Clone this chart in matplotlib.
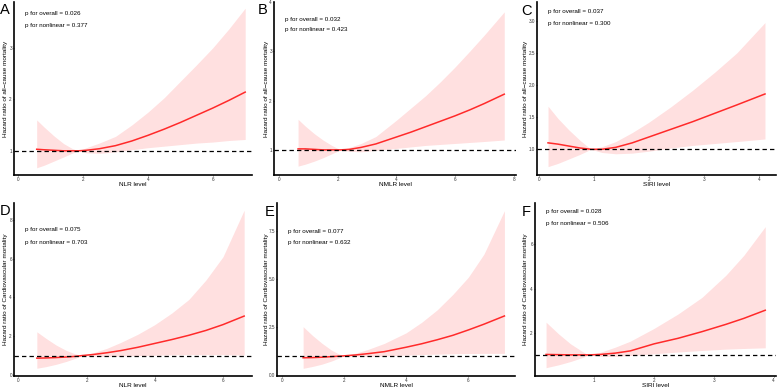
import matplotlib
matplotlib.use("Agg")
import matplotlib.pyplot as plt

plt.rcParams['font.family'] = ['Liberation Sans', 'DejaVu Sans']

W, H = 777, 389

# ---- data ----
a_x = [0.57, 0.8, 1.1, 1.4, 1.65, 1.85, 2.1, 2.5, 3.0, 3.5, 4.0, 4.5, 5.0, 5.5, 6.0, 6.5, 7.0]
a_hr = [1.03, 1.02, 1.01, 1.0, 1.0, 1.0, 1.01, 1.04, 1.10, 1.19, 1.30, 1.42, 1.55, 1.69, 1.83, 1.98, 2.14]
a_up = [1.60, 1.46, 1.29, 1.14, 1.05, 1.0, 1.06, 1.15, 1.28, 1.50, 1.75, 2.03, 2.35, 2.67, 3.0, 3.37, 3.77]
a_lo = [0.67, 0.72, 0.80, 0.88, 0.95, 1.0, 0.96, 0.95, 0.98, 1.02, 1.06, 1.09, 1.12, 1.15, 1.17, 1.20, 1.22]

b_x = [0.65, 0.9, 1.2, 1.5, 1.8, 2.1, 2.4, 2.8, 3.3, 4.0, 4.5, 5.0, 5.5, 6.0, 6.5, 7.0, 7.68]
b_hr = [1.02, 1.02, 1.01, 1.0, 1.0, 1.0, 1.01, 1.05, 1.12, 1.26, 1.36, 1.47, 1.58, 1.69, 1.81, 1.94, 2.13]
b_up = [1.62, 1.48, 1.33, 1.20, 1.09, 1.0, 1.05, 1.13, 1.27, 1.60, 1.85, 2.1, 2.38, 2.68, 3.0, 3.33, 3.8]
b_lo = [0.67, 0.71, 0.77, 0.84, 0.92, 1.0, 0.97, 0.96, 0.99, 1.03, 1.06, 1.09, 1.11, 1.13, 1.15, 1.17, 1.20]

c_x = [0.17, 0.35, 0.55, 0.75, 0.95, 1.15, 1.4, 1.7, 2.0, 2.4, 2.8, 3.2, 3.6, 4.11]
c_hr = [1.10, 1.08, 1.05, 1.02, 1.0, 1.0, 1.03, 1.10, 1.19, 1.31, 1.43, 1.56, 1.69, 1.86]
c_up = [1.67, 1.48, 1.30, 1.14, 1.0, 1.04, 1.12, 1.26, 1.42, 1.66, 1.92, 2.2, 2.5, 2.97]
c_lo = [0.73, 0.78, 0.85, 0.92, 1.0, 0.95, 0.93, 0.94, 0.97, 1.02, 1.06, 1.09, 1.12, 1.16]

d_x = [0.54, 0.8, 1.1, 1.4, 1.65, 1.85, 2.2, 2.6, 3.0, 3.5, 4.0, 4.5, 5.0, 5.5, 6.0, 6.62]
d_hr = [0.87, 0.88, 0.90, 0.93, 0.96, 1.0, 1.06, 1.15, 1.26, 1.43, 1.63, 1.83, 2.05, 2.3, 2.6, 3.04]
d_up = [2.23, 1.90, 1.55, 1.27, 1.10, 1.0, 1.15, 1.38, 1.68, 2.1, 2.6, 3.2, 3.9, 4.9, 6.1, 8.5]
d_lo = [0.35, 0.43, 0.55, 0.70, 0.85, 1.0, 0.97, 0.96, 0.98, 1.0, 1.02, 1.04, 1.05, 1.05, 1.05, 1.03]

e_x = [0.69, 1.0, 1.3, 1.6, 1.8, 2.0, 2.4, 2.8, 3.3, 4.0, 4.5, 5.0, 5.5, 6.0, 6.5, 7.16]
e_hr = [0.90, 0.91, 0.93, 0.96, 0.98, 1.0, 1.05, 1.12, 1.22, 1.45, 1.63, 1.84, 2.07, 2.35, 2.65, 3.08]
e_up = [2.52, 2.05, 1.65, 1.30, 1.13, 1.0, 1.15, 1.35, 1.65, 2.2, 2.75, 3.4, 4.2, 5.1, 6.3, 8.57]
e_lo = [0.35, 0.45, 0.57, 0.73, 0.86, 1.0, 0.98, 0.97, 0.99, 1.04, 1.07, 1.09, 1.11, 1.12, 1.13, 1.13]

f_x = [0.19, 0.4, 0.6, 0.8, 0.9, 1.1, 1.35, 1.6, 2.0, 2.4, 2.8, 3.2, 3.5, 3.86]
f_hr = [1.02, 1.01, 1.0, 1.0, 1.0, 1.02, 1.08, 1.18, 1.50, 1.75, 2.05, 2.38, 2.65, 3.02]
f_up = [2.48, 1.95, 1.5, 1.15, 1.0, 1.12, 1.35, 1.62, 2.2, 2.85, 3.6, 4.6, 5.5, 6.8]
f_lo = [0.42, 0.55, 0.7, 0.88, 1.0, 0.93, 0.93, 0.97, 1.05, 1.13, 1.2, 1.26, 1.29, 1.32]

letters = ['A', 'B', 'C', 'D', 'E', 'F']
xlabels = ['NLR level', 'NMLR level', 'SIRI level', 'NLR level', 'NMLR level', 'SIRI level']
ylab_all = 'Hazard ratio of all\u2212cause mortality'
ylab_cv = 'Hazard ratio of Cardiovascular mortality'
p_overall = ['0.026', '0.032', '0.037', '0.075', '0.077', '0.028']
p_nonlin = ['0.377', '0.423', '0.300', '0.703', '0.632', '0.506']

xticks = [[0, 2, 4, 6], [0, 2, 4, 6, 8], [0, 1, 2, 3, 4], [0, 2, 4, 6], [0, 2, 4, 6], [1, 2, 3, 4]]
yticks = [[1, 2, 3], [1, 2, 3, 4], [1.0, 1.5, 2.0, 2.5, 3.0], [0, 2, 4, 6, 8], [0.0, 2.5, 5.0, 7.5], [2, 4, 6]]
ytickfmt = ['%d', '%d', '%.1f', '%d', '%.1f', '%d']

# ---- layout (pixels) ----
boxes = [(14, 2, 252, 175), (274, 2, 516, 175), (537, 2, 776, 175),
         (14, 203, 252, 376), (277, 203, 515, 376), (535, 203, 776, 376)]
xlims = [(-0.13, 7.21), (-0.17, 8.08), (-0.03, 4.31), (-0.13, 6.85), (-0.15, 7.5), (0.005, 4.04)]
ylims = [(0.53, 3.89), (0.49, 4.0), (0.60, 3.29), (-0.05, 8.87), (-0.05, 8.97), (0.045, 7.87)]
ylab_dx = [-8.3, -7.8, -11.7, -8.6, -10.3, -9.3]   # label centre, px left of spine
xlab_dy = [9.3, 9.3, 9.3, 9.3, 9.6, 9.9]           # label centre, px below spine
ptext = [(25, 14, 25), (285, 20, 29), (548, 11, 23), (25, 230, 242), (288, 232, 243), (546, 212, 224)]
letter_pos = [(0, 3), (258, 3), (521, 4), (0, 204), (265, 205), (522, 205)]

data = [(a_x, a_hr, a_up, a_lo), (b_x, b_hr, b_up, b_lo), (c_x, c_hr, c_up, c_lo),
        (d_x, d_hr, d_up, d_lo), (e_x, e_hr, e_up, e_lo), (f_x, f_hr, f_up, f_lo)]

fig = plt.figure(figsize=(W / 100, H / 100), dpi=100)

for i in range(6):
    l, t, r, b = boxes[i]
    ax = fig.add_axes([l / W, 1 - b / H, (r - l) / W, (b - t) / H])
    x, hr, up, lo = data[i]
    ax.fill_between(x, lo, up, color='#FF3030', alpha=0.15, linewidth=0)
    ax.plot(x, hr, color='#FF2A2A', lw=1.1)
    ax.axhline(1, color='black', lw=0.9, ls=(0, (3.5, 2.5)))
    ax.set_xlim(*xlims[i])
    ax.set_ylim(*ylims[i])
    ax.set_xticks(xticks[i])
    ax.set_yticks(yticks[i])
    ax.set_yticklabels([ytickfmt[i] % v for v in yticks[i]])
    for s in ['top', 'right']:
        ax.spines[s].set_visible(False)
    for s in ['left', 'bottom']:
        ax.spines[s].set_linewidth(1.2)
    ax.tick_params(length=1.0, width=0.5, colors='#333333', labelsize=3.3, pad=0.5)
    ax.set_xlabel(xlabels[i], fontsize=4.6, va='center')
    ax.xaxis.set_label_coords(0.5, -xlab_dy[i] / (b - t))
    ax.set_ylabel(ylab_all if i < 3 else ylab_cv, fontsize=4.6, va='center')
    ax.yaxis.set_label_coords(ylab_dx[i] / (r - l), 0.5)
    tx, ty1, ty2 = ptext[i]
    fig.text(tx / W, 1 - ty1 / H, 'p for overall = ' + p_overall[i], fontsize=4.5, va='center')
    fig.text(tx / W, 1 - ty2 / H, 'p for nonlinear = ' + p_nonlin[i], fontsize=4.5, va='center')
    lx, ly = letter_pos[i]
    fig.text(lx / W, 1 - ly / H, letters[i], fontsize=10.5, va='top', ha='left')

fig.savefig('out.png', dpi=100)
